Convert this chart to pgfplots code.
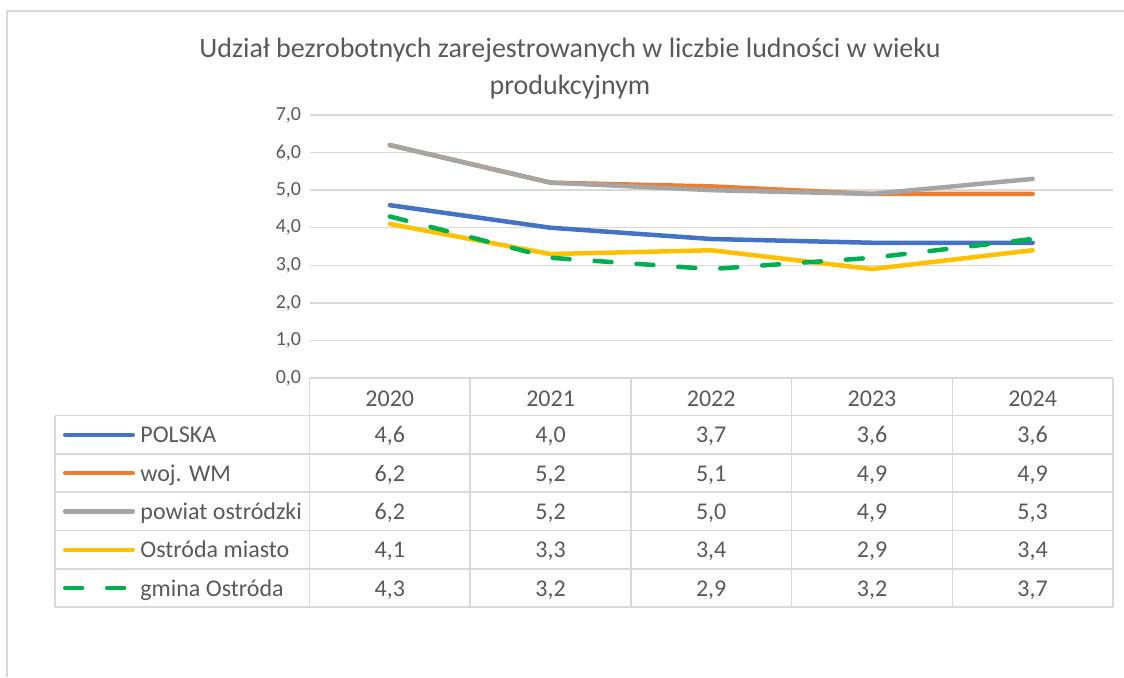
\documentclass[border=0pt]{standalone}
\usepackage{pgfplots}
\pgfplotsset{compat=1.18}
\usepackage{pgfplotstable}
\usepackage{fontspec}
\setmainfont{Carlito}
\definecolor{cblue}{HTML}{4472C4}
\definecolor{corange}{HTML}{ED7D31}
\definecolor{cgray}{HTML}{A5A5A5}
\definecolor{cyellow}{HTML}{FFC000}
\definecolor{cgreen}{HTML}{00B050}
\definecolor{gridc}{HTML}{D9D9D9}
\definecolor{ctext}{HTML}{595959}
\pgfplotstableread{
x pol woj pow om gm
0 4.6 6.2 6.2 4.1 4.3
1 4.0 5.2 5.2 3.3 3.2
2 3.7 5.1 5.0 3.4 2.9
3 3.6 4.9 4.9 2.9 3.2
4 3.6 4.9 5.3 3.4 3.7
}\data
\newcommand{\tabfont}{\fontsize{12}{14}\selectfont}
\begin{document}
\begin{tikzpicture}
\useasboundingbox (0,0) rectangle (562pt,-338.5pt);
\draw[gridc, line width=0.75pt] (3.5pt,-338.5pt) -- (3.5pt,-5.5pt) -- (562pt,-5.5pt);
\node[anchor=base, inner sep=0pt, font=\fontsize{14}{17}\selectfont, text=ctext] at (285pt,-28.5pt) {Udział bezrobotnych zarejestrowanych w liczbie ludności w wieku};
\node[anchor=base, inner sep=0pt, font=\fontsize{14}{17}\selectfont, text=ctext] at (285pt,-47pt) {produkcyjnym};
\begin{axis}[
  at={(154.75pt,-189pt)}, anchor=south west,
  scale only axis, width=401.75pt, height=131.5pt,
  xmin=-0.5, xmax=4.5, ymin=0, ymax=7,
  ytick={0,1,...,7}, xtick=\empty,
  ymajorgrids, grid style={gridc, line width=0.75pt},
  axis line style={draw=none}, major tick length=0pt,
  yticklabel style={font=\fontsize{10}{12}\selectfont, text=ctext, inner xsep=0pt, xshift=-4pt,
    /pgf/number format/.cd, fixed, fixed zerofill, precision=1, use comma, assume math mode=true},
  clip=false,
  every axis plot/.append style={line width=2.25pt, line cap=round, line join=round, mark=none},
]
\addplot[cblue] table[x=x, y=pol] {\data};
\addplot[corange] table[x=x, y=woj] {\data};
\addplot[cgray] table[x=x, y=pow] {\data};
\addplot[cyellow] table[x=x, y=om] {\data};
\addplot[cgreen, dash pattern=on 8.5pt off 12.5pt] table[x=x, y=gm] {\data};
\end{axis}
% data table
\begin{scope}[gridc, line width=0.75pt]
\draw (154.75pt,-189pt) -- (556.5pt,-189pt);
\foreach \y in {-207.85,-227,-246,-265.35,-284.5,-303.5} \draw (27.5pt,\y pt) -- (556.5pt,\y pt);
\draw (27.5pt,-207.85pt) -- (27.5pt,-303.5pt);
\foreach \x in {154.75,235.1,315.45,395.8,476.15,556.5} \draw (\x pt,-189pt) -- (\x pt,-303.5pt);
\end{scope}
\begin{scope}[every node/.style={anchor=base, inner sep=0pt, font=\tabfont, text=ctext}]
\foreach \x/\t in {194.9/2020,275.3/2021,355.6/2022,436/2023,516.3/2024} \node at (\x pt,-203pt) {\t};
\foreach \x/\t in {194.9/{4,6},275.3/{4,0},355.6/{3,7},436/{3,6},516.3/{3,6}} \node at (\x pt,-221.45pt) {\t};
\foreach \x/\t in {194.9/{6,2},275.3/{5,2},355.6/{5,1},436/{4,9},516.3/{4,9}} \node at (\x pt,-240.5pt) {\t};
\foreach \x/\t in {194.9/{6,2},275.3/{5,2},355.6/{5,0},436/{4,9},516.3/{5,3}} \node at (\x pt,-259.7pt) {\t};
\foreach \x/\t in {194.9/{4,1},275.3/{3,3},355.6/{3,4},436/{2,9},516.3/{3,4}} \node at (\x pt,-278.95pt) {\t};
\foreach \x/\t in {194.9/{4,3},275.3/{3,2},355.6/{2,9},436/{3,2},516.3/{3,7}} \node at (\x pt,-298pt) {\t};
\node[anchor=base west] at (70pt,-221.45pt) {POLSKA};
\node[anchor=base west] at (70pt,-240.5pt) {woj. WM};
\node[anchor=base west] at (70pt,-259.7pt) {powiat ostródzki};
\node[anchor=base west] at (70pt,-278.95pt) {Ostróda miasto};
\node[anchor=base west] at (70pt,-298pt) {gmina Ostróda};
\end{scope}
\begin{scope}[line width=2.25pt, line cap=round]
\draw[cblue] (32.6pt,-217.4pt) -- (66.4pt,-217.4pt);
\draw[corange] (32.6pt,-236.5pt) -- (66.4pt,-236.5pt);
\draw[cgray] (32.6pt,-255.7pt) -- (66.4pt,-255.7pt);
\draw[cyellow] (32.6pt,-274.9pt) -- (66.4pt,-274.9pt);
\draw[cgreen, dash pattern=on 8.5pt off 12.5pt] (32.6pt,-294pt) -- (66.4pt,-294pt);
\end{scope}
\end{tikzpicture}
\end{document}
